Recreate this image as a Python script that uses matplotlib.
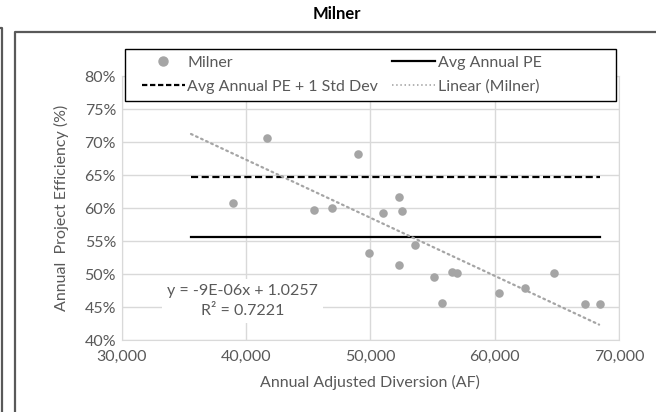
import numpy as np
import matplotlib
matplotlib.use("Agg")
import matplotlib.pyplot as plt
from matplotlib.lines import Line2D
from matplotlib.patches import Rectangle
from matplotlib.ticker import FuncFormatter

plt.rcParams['font.family'] = ['Lato', 'DejaVu Sans']

# annual diversion (AF) vs project efficiency
diversion = [38931, 41664, 49028, 45466, 46913, 50989, 49912, 52323, 52540, 52323,
             53561, 55137, 55731, 56559, 56961, 60338, 62404, 64759, 67228, 68434]
efficiency = [0.6085, 0.7060, 0.6827, 0.5974, 0.6005, 0.5929, 0.5327, 0.6167, 0.5964, 0.5136,
              0.5444, 0.4955, 0.4560, 0.5035, 0.5020, 0.4712, 0.4788, 0.5020, 0.4550, 0.4550]

avg_pe = 0.5565
avg_pe_std = 0.6470
line_x = [35600, 68500]

# linear trend (Excel trendline)
slope = -8.8e-06
intercept = 1.0257
r2 = 0.7221
trend_x = [35580, 68400]

grey = '#595959'
fs = 11.5

fig = plt.figure(figsize=(6.56, 4.12), dpi=100)
ax = fig.add_axes([0.1854, 0.174, 0.7582, 0.6408])

ax.scatter(diversion, efficiency, s=38, color='#a5a5a5', zorder=4, linewidths=0)
ax.plot(line_x, [avg_pe, avg_pe], color='black', lw=1.6, zorder=3)
ax.plot(line_x, [avg_pe_std, avg_pe_std], color='black', lw=1.6, ls=(0, (3.2, 1.6)), zorder=3)
tx = np.array(trend_x)
ax.plot(tx, slope * tx + intercept, color='#a5a5a5', lw=1.6, ls=(0, (0.8, 1.7)),
        dash_capstyle='round', zorder=3)

ax.set_xlim(30000, 70000)
ax.set_ylim(0.40, 0.80)
ax.set_xticks(np.arange(30000, 70001, 10000))
ax.set_yticks(np.arange(0.40, 0.801, 0.05))
ax.xaxis.set_major_formatter(FuncFormatter(lambda v, p: f'{v:,.0f}'))
ax.yaxis.set_major_formatter(FuncFormatter(lambda v, p: f'{v*100:.0f}%'))
ax.tick_params(axis='x', length=0, labelsize=fs, labelcolor=grey, pad=7)
ax.tick_params(axis='y', length=0, labelsize=fs, labelcolor=grey, pad=4)
ax.grid(True, color='#d9d9d9', lw=1)
ax.set_axisbelow(True)
for s in ax.spines.values():
    s.set_color('#d9d9d9')

ax.set_xlabel('Annual Adjusted Diversion (AF)', fontsize=fs, color=grey, labelpad=8)
ax.set_ylabel('Annual  Project Efficiency (%)', fontsize=fs, color=grey, labelpad=11)

ax.text(0.243, 0.15, f'y = -9E-06x + {intercept}\nR² = {r2}', transform=ax.transAxes,
        ha='center', va='center', fontsize=fs, color=grey,
        linespacing=1.55, zorder=5,
        bbox=dict(facecolor='white', edgecolor='none', boxstyle='square,pad=0.3'))

# legend box sits partly above the plot area
ax.add_patch(Rectangle((0.007, 0.9076), 0.987, 0.195, transform=ax.transAxes, facecolor='white',
                       edgecolor='black', lw=1.0, clip_on=False, zorder=6))
handles = [
    Line2D([], [], marker='o', ls='none', color='#a5a5a5', markersize=6.5),
    Line2D([], [], color='black', lw=1.6, ls=(0, (2.4, 1.2))),
    Line2D([], [], color='black', lw=1.6),
    Line2D([], [], color='#a5a5a5', lw=1.2, ls=(0, (0.9, 1.6))),
]
labels = ['Milner', 'Avg Annual PE + 1 Std Dev', 'Avg Annual PE', 'Linear (Milner)']
leg = ax.legend(handles, labels, ncol=2, loc='center left', bbox_to_anchor=(0.04, 1.0053),
                frameon=False, fontsize=fs, handlelength=2.7, handletextpad=0.15,
                borderpad=0, labelspacing=0.6, columnspacing=0.9, borderaxespad=0)
for t in leg.get_texts():
    t.set_color(grey)
leg.set_zorder(7)

fig.text(0.513, 0.966, 'Milner', ha='center', va='center', fontsize=12, fontweight='bold')

# chart area borders
fig.add_artist(Line2D([0.0225, 0.0225, 1.0], [0.0, 0.9223, 0.9223], transform=fig.transFigure,
                      color=grey, lw=1.6))
fig.add_artist(Line2D([0.0, 0.0025, 0.0025], [0.932, 0.932, 0.0], transform=fig.transFigure,
                      color=grey, lw=1.6))

fig.savefig('out.png', dpi=100)
